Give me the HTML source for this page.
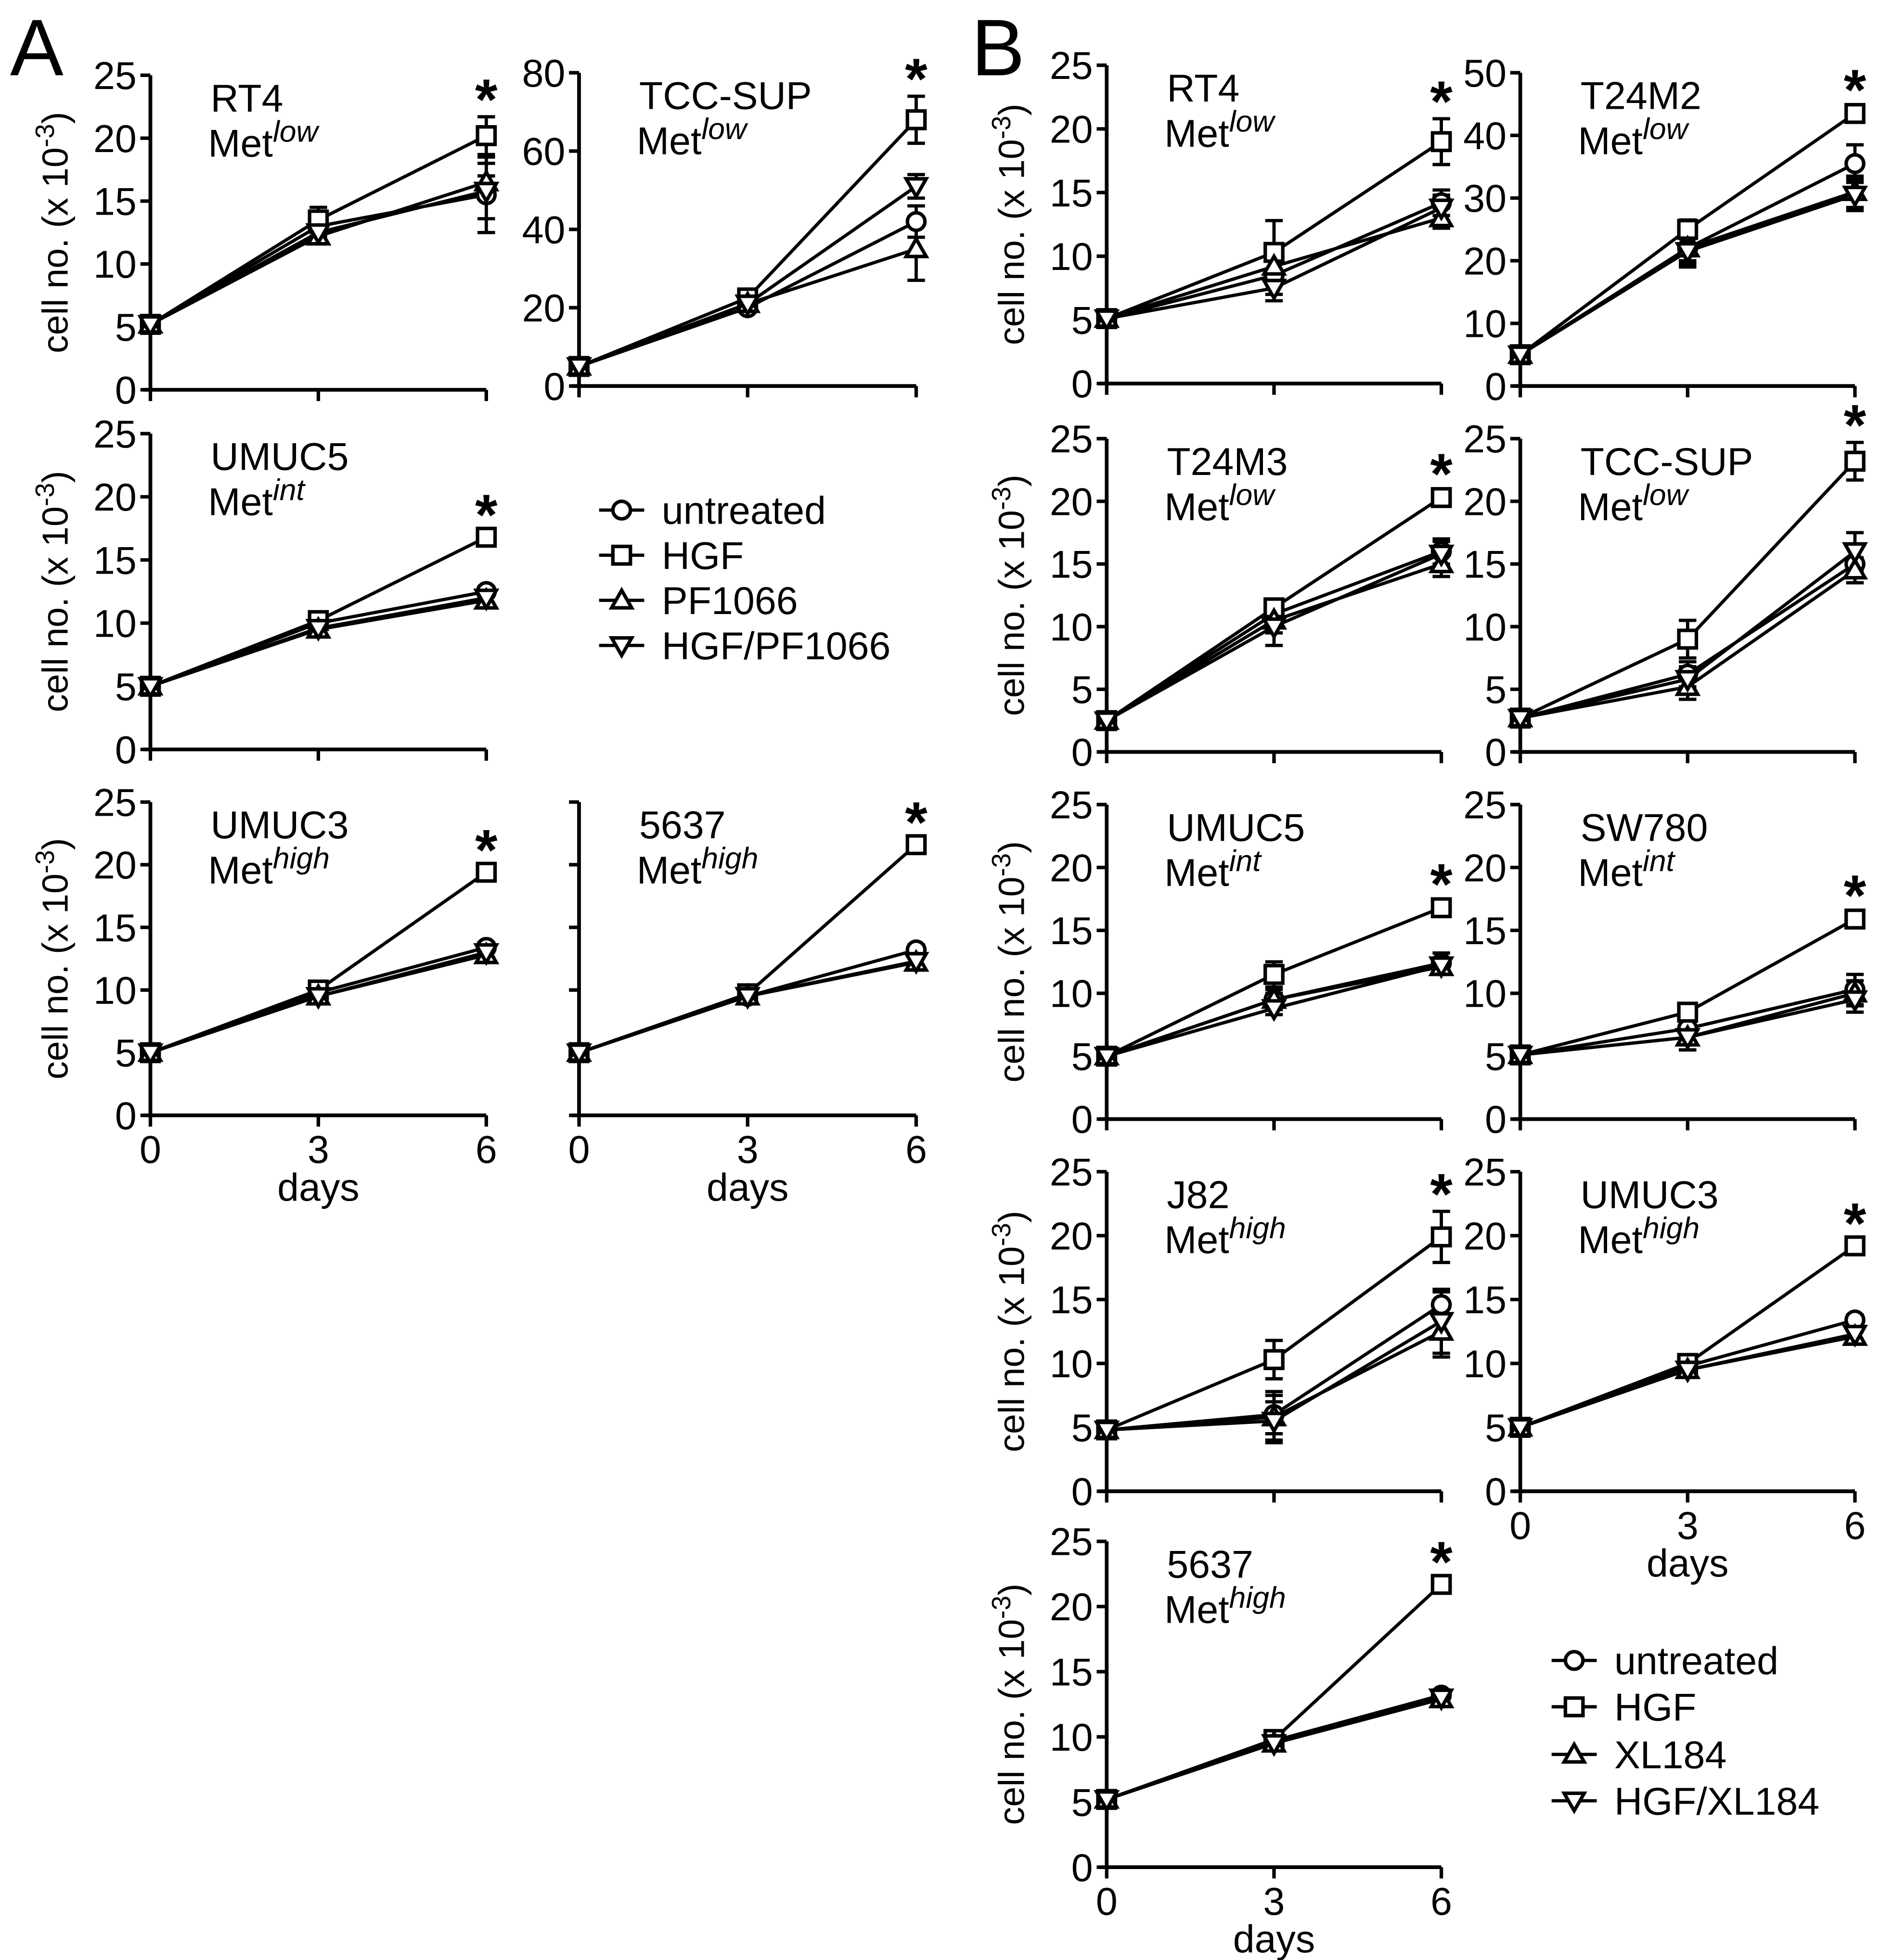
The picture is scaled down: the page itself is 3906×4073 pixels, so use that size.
<!DOCTYPE html>
<html><head><meta charset="utf-8"><style>
html,body{margin:0;padding:0;background:#fff}
svg{display:block}
text{font-family:"Liberation Sans",Arial,sans-serif;fill:#000}
</style></head><body>
<svg id="fig" width="3906" height="4073" viewBox="0 0 1500 1564" xmlns="http://www.w3.org/2000/svg">
<rect width="1500" height="1564" fill="#fff"/>
<text x="8" y="60" font-size="64">A</text>
<text x="775" y="60" font-size="64">B</text>
<g id="plots"></g>
</svg>
<script>
const days=[0,3,6];
const seriesA=["untreated","HGF","PF1066","HGF/PF1066"];
const seriesB=["untreated","HGF","XL184","HGF/XL184"];
// values per panel: untreated, HGF, inhibitor, HGF+inhibitor
const A_RT4=[[5.2,13,15.5],[5.2,13.5,20.2],[5.2,12.2,16.5],[5.2,12.5,15.8]];
const A_RT4_err=[[0,0.8,3],[0,1,1.5],[0,0.5,0.5],[0,0.6,2.2]];
const A_TCC=[[5,20,42],[5,22.5,68],[5,21,35],[5,21,51]];
const A_TCC_err=[[0,1,4],[0,1.5,6],[0,1,8],[0,1,3]];
const A_UMUC5=[[5,10,12.5],[5,10.2,16.8],[5,9.5,11.8],[5,9.6,12]];
const A_UMUC3=[[5,9.8,13.4],[5,10,19.4],[5,9.5,12.8],[5,9.5,13]];
const A_5637=[[5,9.5,13.2],[5,9.7,21.6],[5,9.5,12.2],[5,9.5,12.3]];
const B_RT4=[[5.1,8.5,14.2],[5.1,10.3,19],[5.1,9.2,13],[5.1,7.5,13.8]];
const B_RT4_err=[[0,1.5,1],[0,2.5,1.8],[0,1,0.8],[0,1,1]];
const B_T24M2=[[5,22,35.5],[5,25,43.5],[5,22,31],[5,21.5,30.5]];
const B_T24M2_err=[[0,3,3],[0,1.5,1],[0,2,2.5],[0,2,2.5]];
const B_T24M3=[[2.5,11,16],[2.5,11.5,20.3],[2.5,10.5,15],[2.5,10,15.8]];
const B_T24M3_err=[[0,1,1],[0,0.5,0.5],[0,1,1],[0,1.5,1]];
const B_TCC=[[2.7,6.2,15],[2.7,9,23.2],[2.7,5.2,14.5],[2.7,5.8,16]];
const B_TCC_err=[[0,1,1.5],[0,1.5,1.5],[0,1,1],[0,1,1.5]];
const B_UMUC5=[[5,9.5,12.4],[5,11.5,16.8],[5,9.5,12.1],[5,8.8,12.2]];
const B_UMUC5_err=[[0,0.8,0.8],[0,1,0.5],[0,0.5,0.6],[0,0.5,0.5]];
const B_SW780=[[5.1,7.2,10.3],[5.1,8.5,15.9],[5.1,6.5,10],[5.1,6.5,9.5]];
const B_SW780_err=[[0,1,1.2],[0,0.5,0.5],[0,1,1],[0,1,1]];
const B_J82=[[4.8,6,14.6],[4.8,10.3,19.9],[4.8,5.8,12.5],[4.8,5.5,13.3]];
const B_J82_err=[[0,1.5,1],[0,1.5,2],[0,2,2],[0,1.5,2.5]];
const B_UMUC3=[[5,9.8,13.4],[5,10,19.2],[5,9.5,12.1],[5,9.5,12.3]];
const B_5637=[[5.2,9.7,13.2],[5.2,9.8,21.7],[5.2,9.5,12.9],[5.2,9.5,13]];
const zero=[[0,0.4,0.4],[0,0.4,0.4],[0,0.4,0.4],[0,0.4,0.4]];

const panels=[
 {id:"a-rt4",name:"RT4",sup:"low",ax:120,x6:388,y0:311,yt:60,max:25,step:5,yl:true,xl:false,title:true,d:A_RT4,e:A_RT4_err},
 {id:"a-tcc-sup",name:"TCC-SUP",sup:"low",ax:462,x6:731,y0:308,yt:58,max:80,step:20,yl:true,xl:false,title:false,d:A_TCC,e:A_TCC_err},
 {id:"a-umuc5",name:"UMUC5",sup:"int",ax:120,x6:388,y0:598,yt:346,max:25,step:5,yl:true,xl:false,title:true,d:A_UMUC5,e:zero},
 {id:"a-umuc3",name:"UMUC3",sup:"high",ax:120,x6:388,y0:890,yt:640,max:25,step:5,yl:true,xl:true,title:true,d:A_UMUC3,e:zero},
 {id:"a-5637",name:"5637",sup:"high",ax:462,x6:731,y0:890,yt:640,max:25,step:5,yl:false,xl:true,title:false,d:A_5637,e:zero},
 {id:"b-rt4",name:"RT4",sup:"low",ax:883,x6:1150,y0:306,yt:52,max:25,step:5,yl:true,xl:false,title:true,d:B_RT4,e:B_RT4_err},
 {id:"b-t24m2",name:"T24M2",sup:"low",ax:1213,x6:1480,y0:308,yt:58,max:50,step:10,yl:true,xl:false,title:false,d:B_T24M2,e:B_T24M2_err},
 {id:"b-t24m3",name:"T24M3",sup:"low",ax:883,x6:1150,y0:600,yt:350,max:25,step:5,yl:true,xl:false,title:true,d:B_T24M3,e:B_T24M3_err},
 {id:"b-tcc-sup",name:"TCC-SUP",sup:"low",ax:1213,x6:1480,y0:600,yt:350,max:25,step:5,yl:true,xl:false,title:false,d:B_TCC,e:B_TCC_err},
 {id:"b-umuc5",name:"UMUC5",sup:"int",ax:883,x6:1150,y0:893,yt:642,max:25,step:5,yl:true,xl:false,title:true,d:B_UMUC5,e:B_UMUC5_err},
 {id:"b-sw780",name:"SW780",sup:"int",ax:1213,x6:1480,y0:893,yt:642,max:25,step:5,yl:true,xl:false,title:false,d:B_SW780,e:B_SW780_err},
 {id:"b-j82",name:"J82",sup:"high",ax:883,x6:1150,y0:1190,yt:935,max:25,step:5,yl:true,xl:false,title:true,d:B_J82,e:B_J82_err},
 {id:"b-umuc3",name:"UMUC3",sup:"high",ax:1213,x6:1480,y0:1190,yt:935,max:25,step:5,yl:true,xl:true,title:false,d:B_UMUC3,e:zero},
 {id:"b-5637",name:"5637",sup:"high",ax:883,x6:1150,y0:1490,yt:1230,max:25,step:5,yl:true,xl:true,title:true,d:B_5637,e:zero}
];
const NS="http://www.w3.org/2000/svg";
const root=document.getElementById("plots");
function mk(tag,at,parent){const el=document.createElementNS(NS,tag);for(const k in at)el.setAttribute(k,at[k]);(parent||root).appendChild(el);return el;}
function marker(g,k,x,y){
 const r=7;let el;
 if(k===0)el=mk("circle",{cx:x,cy:y,r:r,fill:"#fff",stroke:"#000","stroke-width":2.8},g);
 else if(k===1)el=mk("rect",{x:x-r,y:y-r,width:2*r,height:2*r,fill:"#fff",stroke:"#000","stroke-width":2.8},g);
 else if(k===2)el=mk("polygon",{points:`${x},${y-r-1} ${x-r-1},${y+r-1} ${x+r+1},${y+r-1}`,fill:"#fff",stroke:"#000","stroke-width":2.8},g);
 else el=mk("polygon",{points:`${x},${y+r+1} ${x-r-1},${y-r+1} ${x+r+1},${y-r+1}`,fill:"#fff",stroke:"#000","stroke-width":2.8},g);
 return el;
}
panels.forEach(p=>{
 const g=mk("g",{});
 
 
 const X=v=>p.ax+(p.x6-p.ax)*v/6;
 const Y=v=>p.y0-(p.y0-p.yt)*v/p.max;
 const ya=mk("line",{x1:p.ax,y1:p.yt,x2:p.ax,y2:p.y0,stroke:"#000","stroke-width":3},g);
 
 
 const xa=mk("line",{x1:p.ax-6,y1:p.y0,x2:p.x6,y2:p.y0,stroke:"#000","stroke-width":3},g);
 
 
 for(let v=0;v<=p.max;v+=p.step){
  mk("line",{x1:p.ax-8,y1:Y(v),x2:p.ax,y2:Y(v),stroke:"#000","stroke-width":2.8},g);
  if(p.yl){const t=mk("text",{x:p.ax-11,y:Y(v)+11,"font-size":31,"text-anchor":"end"},g);t.textContent=v;
   
   }
 }
 days.forEach(d=>{
  mk("line",{x1:X(d),y1:p.y0,x2:X(d),y2:p.y0+9,stroke:"#000","stroke-width":2.8},g);
  if(p.xl){const t=mk("text",{x:X(d),y:p.y0+38,"font-size":31,"text-anchor":"middle"},g);t.textContent=d;
   
   }
 });
 if(p.xl){const t=mk("text",{x:X(3),y:p.y0+68,"font-size":31,"text-anchor":"middle"},g);t.textContent="days";
  
  }
 if(p.title){
  const cy=(p.y0+p.yt)/2,cx=p.ax-66;
  const t=mk("text",{x:cx,y:cy,"font-size":29,"text-anchor":"middle",transform:`rotate(-90 ${cx} ${cy})`},g);
  
  
  t.appendChild(document.createTextNode("cell no. (x 10"));
  const s=mk("tspan",{dy:-11,"font-size":21},t);s.textContent="-3";
  const s2=mk("tspan",{dy:11},t);s2.textContent=")";
 }
 const lbl=mk("text",{x:p.ax+48,y:p.yt+29,"font-size":31},g);lbl.textContent=p.name;
 
 
 const ml=mk("text",{x:p.ax+46,y:p.yt+65,"font-size":31},g);
 
 
 ml.appendChild(document.createTextNode("Met"));
 const sp=mk("tspan",{dy:-12,"font-size":24,"font-style":"italic"},ml);sp.textContent=p.sup;
 p.d.forEach((s,k)=>{
  const pl=mk("polyline",{points:s.map((v,i)=>X(days[i])+","+Y(v)).join(" "),fill:"none",stroke:"#000","stroke-width":2.6},g);
  
  
 });
 p.d.forEach((s,k)=>{s.forEach((v,i)=>{const e=p.e[k][i];if(e<=0)return;
  const x=X(days[i]);
  mk("line",{x1:x,y1:Y(v+e),x2:x,y2:Y(v-e),stroke:"#000","stroke-width":2.6},g);
  mk("line",{x1:x-7,y1:Y(v+e),x2:x+7,y2:Y(v+e),stroke:"#000","stroke-width":2.6},g);
  mk("line",{x1:x-7,y1:Y(v-e),x2:x+7,y2:Y(v-e),stroke:"#000","stroke-width":2.6},g);
 });});
 p.d.forEach((s,k)=>{s.forEach((v,i)=>{
  const m=marker(g,k,X(days[i]),Y(v));
  
  
 });});
 const hgf=p.d[1][2]+p.e[1][2];
 const st=mk("text",{x:X(6),y:Y(hgf)+2,"font-size":46,"font-weight":"bold","text-anchor":"middle"},g);st.textContent="*";
 
 
});
function legend(x,ys,names,id){
 const g=mk("g",{});
 
 
 names.forEach((n,k)=>{
  const y=ys[k];
  mk("line",{x1:x,y1:y,x2:x+36,y2:y,stroke:"#000","stroke-width":2.6},g);
  const m=marker(g,k,x+18,y);
  
  
  const t=mk("text",{x:x+50,y:y+11,"font-size":31},g);t.textContent=n;
  
  
 });
}
legend(478,[407,443,479,515],seriesA,"legend-a");
legend(1238,[1325,1362,1400,1437],seriesB,"legend-b");
</script>
</body></html>
